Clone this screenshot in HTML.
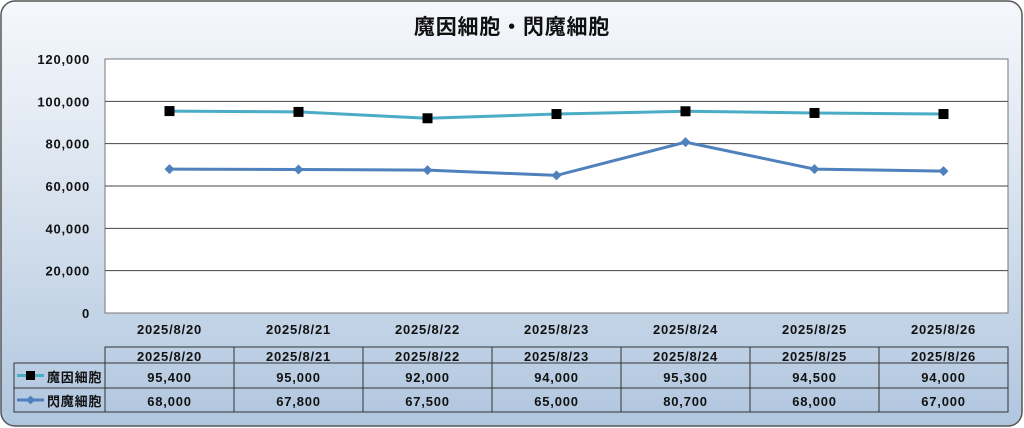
<!DOCTYPE html>
<html><head><meta charset="utf-8"><style>
body{margin:0;width:1024px;height:428px;overflow:hidden;background:#fff}
svg{display:block}
text{font-family:"Liberation Sans","Noto Sans CJK JP",sans-serif;fill:#111;font-weight:bold;letter-spacing:0.8px}
</style></head><body>
<svg id="chart" width="1024" height="428">
<defs><linearGradient id="bg" x1="0" y1="0" x2="0" y2="1">
<stop offset="0" stop-color="#f5f8fc"/><stop offset="0.45" stop-color="#d9e3ef"/><stop offset="1" stop-color="#b0c6df"/></linearGradient></defs>
<rect x="1" y="1" width="1021" height="425" rx="14" fill="url(#bg)" stroke="#555" stroke-width="1.5"/>
<text x="512" y="34" text-anchor="middle" font-size="21">魔因細胞・閃魔細胞</text>
<rect x="105" y="59" width="903" height="254" fill="#fff" stroke="#777"/>
<g id="grid"></g><g id="yt"></g><g id="xt"></g><g id="series"></g><g id="table"></g>
</svg>
<script>
const categories=["2025/8/20","2025/8/21","2025/8/22","2025/8/23","2025/8/24","2025/8/25","2025/8/26"];
const seriesA=[95400,95000,92000,94000,95300,94500,94000];
const seriesB=[68000,67800,67500,65000,80700,68000,67000];
const yTicks=[0,20000,40000,60000,80000,100000,120000];
const seriesNames=["魔因細胞","閃魔細胞"];
const NS="http://www.w3.org/2000/svg";
const L=105,R=1008,T=59,B=313,YMAX=120000;
const cw=(R-L)/categories.length;
const x=i=>L+cw*(i+0.5);
const y=v=>B-(v/YMAX)*(B-T);
const fmt=v=>v.toLocaleString("en-US");
function mk(tag,attrs,parent,txt){const e=document.createElementNS(NS,tag);for(const k in attrs)e.setAttribute(k,attrs[k]);if(txt!==undefined)e.textContent=txt;parent.appendChild(e);return e;}
const grid=document.getElementById("grid"),yt=document.getElementById("yt"),xt=document.getElementById("xt"),ser=document.getElementById("series"),tb=document.getElementById("table");
yTicks.forEach(v=>{
 if(v>0&&v<YMAX){const g=mk("line",{x1:L,x2:R,y1:y(v),y2:y(v),stroke:"#444","stroke-width":1},grid);
 
 }
 const t=mk("text",{x:90,y:y(v)+5,"text-anchor":"end","font-size":13},yt,fmt(v));
 
 
});
categories.forEach((c,i)=>{const t=mk("text",{x:x(i),y:334,"text-anchor":"middle","font-size":13},xt,c);
 
 });
function line(vals,color,name){
 const p=mk("polyline",{points:vals.map((v,i)=>x(i)+","+y(v)).join(" "),fill:"none",stroke:color,"stroke-width":3},ser);
 
 
}
line(seriesA,"#4bacc6","series-a");
line(seriesB,"#4f81bd","series-b");
seriesA.forEach((v,i)=>{const m=mk("rect",{x:x(i)-5,y:y(v)-5,width:10,height:10,fill:"#000"},ser);
 
 });
seriesB.forEach((v,i)=>{const m=mk("path",{d:`M${x(i)} ${y(v)-5}L${x(i)+5} ${y(v)}L${x(i)} ${y(v)+5}L${x(i)-5} ${y(v)}Z`,fill:"#4f81bd"},ser);
 
 });
const r0=347,r1=363,r2=388,r3=412,TL=14;
const st={stroke:"#333","stroke-width":1,fill:"none"};
mk("rect",Object.assign({x:L,y:r0,width:R-L,height:r1-r0},st),tb);
mk("rect",Object.assign({x:TL,y:r1,width:R-TL,height:r3-r1},st),tb);
mk("line",Object.assign({x1:TL,x2:R,y1:r2,y2:r2},st),tb);
for(let i=0;i<=categories.length;i++)mk("line",Object.assign({x1:L+cw*i,x2:L+cw*i,y1:r0,y2:r3},st),tb);
categories.forEach((c,i)=>{
 const t=mk("text",{x:x(i),y:r1-2,"text-anchor":"middle","font-size":13},tb,c);
 
 
 const a=mk("text",{x:x(i),y:r2-6,"text-anchor":"middle","font-size":13},tb,fmt(seriesA[i]));
 
 
 const b=mk("text",{x:x(i),y:r3-6,"text-anchor":"middle","font-size":13},tb,fmt(seriesB[i]));
 
 
});
mk("line",{x1:17,x2:44,y1:(r1+r2)/2,y2:(r1+r2)/2,stroke:"#4bacc6","stroke-width":3},tb);
mk("rect",{x:26,y:(r1+r2)/2-4.5,width:9,height:9,fill:"#000"},tb);
mk("line",{x1:17,x2:44,y1:(r2+r3)/2,y2:(r2+r3)/2,stroke:"#4f81bd","stroke-width":3},tb);
const cy=(r2+r3)/2;mk("path",{d:`M30.5 ${cy-4.5}L35 ${cy}L30.5 ${cy+4.5}L26 ${cy}Z`,fill:"#4f81bd"},tb);
const la=mk("text",{x:47,y:r2-6,"font-size":13,"letter-spacing":0},tb,seriesNames[0]);


const lb=mk("text",{x:47,y:r3-6,"font-size":13,"letter-spacing":0},tb,seriesNames[1]);


</script>
</body></html>
